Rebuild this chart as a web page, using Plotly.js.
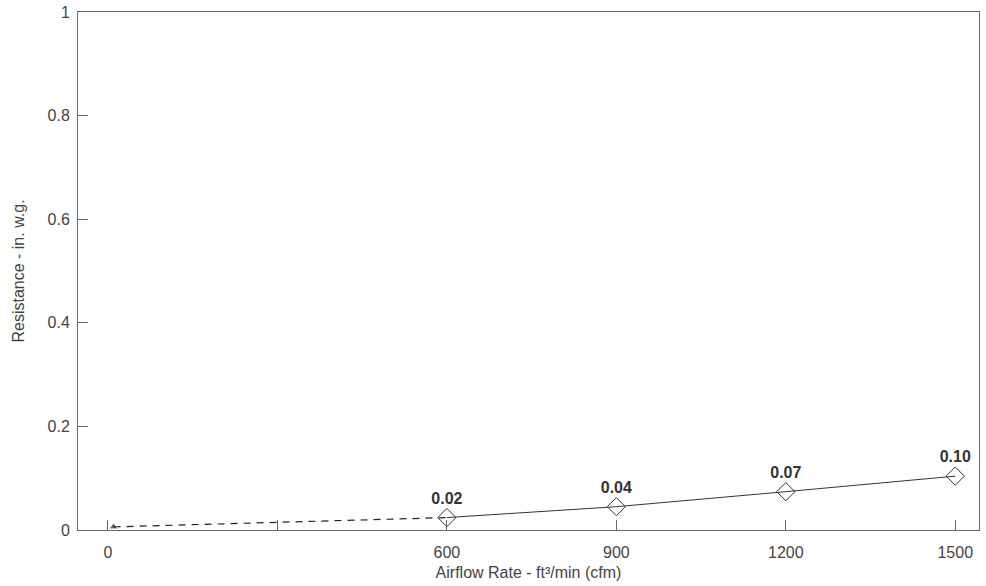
<!DOCTYPE html>
<html>
<head>
<meta charset="utf-8">
<script src="https://cdn.plot.ly/plotly-3.0.1.min.js"></script>
<style>html,body{margin:0;padding:0;background:#fff;}</style>
</head>
<body>
<div id="chart" style="width:986px;height:586px;"></div>
<script>
// Measured points (solid line with open diamonds)
const airflow = [600, 900, 1200, 1500];
const resistance = [0.024, 0.045, 0.074, 0.104];
const resistanceLabels = ["0.02", "0.04", "0.07", "0.10"];
// Extrapolated dashed segment toward zero flow
const extraFlow = [10, 600];
const extraRes = [0.006, 0.024];
// Axis ticks
const xTickVals = [0, 300, 600, 900, 1200, 1500];
const xTickText = ["0", "", "600", "900", "1200", "1500"];
const yTickVals = [0, 0.2, 0.4, 0.6, 0.8, 1];
const yTickText = ["0", "0.2", "0.4", "0.6", "0.8", "1"];

const traces = [
  {
    x: extraFlow, y: extraRes, type: 'scatter', mode: 'lines+markers',
    line: {color: '#222', width: 1.2, dash: '7px,6px'},
    marker: {symbol: ['triangle-up', 'circle'], size: [8, 0], color: '#222'},
    hoverinfo: 'skip', showlegend: false
  },
  {
    x: airflow, y: resistance, type: 'scatter', mode: 'lines+markers+text',
    line: {color: '#333', width: 1},
    marker: {symbol: 'diamond-open', size: 14, color: '#333', line: {width: 1}},
    text: resistanceLabels, textposition: 'top center',
    textfont: {family: 'Liberation Sans, Arial, sans-serif', size: 16, color: '#333', weight: 'bold'},
    showlegend: false
  }
];

const axisFont = {family: 'Liberation Sans, Arial, sans-serif', size: 16, color: '#444'};

const layout = {
  width: 986, height: 586,
  margin: {l: 78, r: 7, t: 12, b: 56},
  paper_bgcolor: '#fff', plot_bgcolor: '#fff',
  font: axisFont,
  showlegend: false,
  xaxis: {
    range: [-53, 1542],
    tickvals: xTickVals, ticktext: xTickText,
    ticks: 'inside', ticklen: 10, tickcolor: '#666',
    ticklabelstandoff: 8,
    showgrid: false, zeroline: false,
    showline: true, linecolor: '#666', linewidth: 1, mirror: true,
    tickfont: axisFont,
    automargin: false,
    title: {text: 'Airflow Rate - ft³/min (cfm)', font: axisFont, standoff: 6}
  },
  yaxis: {
    range: [0, 1],
    tickvals: yTickVals, ticktext: yTickText,
    ticks: 'inside', ticklen: 10, tickcolor: '#666',
    ticklabelstandoff: 4,
    showgrid: false, zeroline: false,
    showline: true, linecolor: '#666', linewidth: 1, mirror: true,
    tickfont: axisFont,
    automargin: false,
    title: {text: 'Resistance - in. w.g.', font: axisFont, standoff: 18}
  }
};

Plotly.newPlot('chart', traces, layout, {displayModeBar: false, staticPlot: true});
</script>
</body>
</html>
